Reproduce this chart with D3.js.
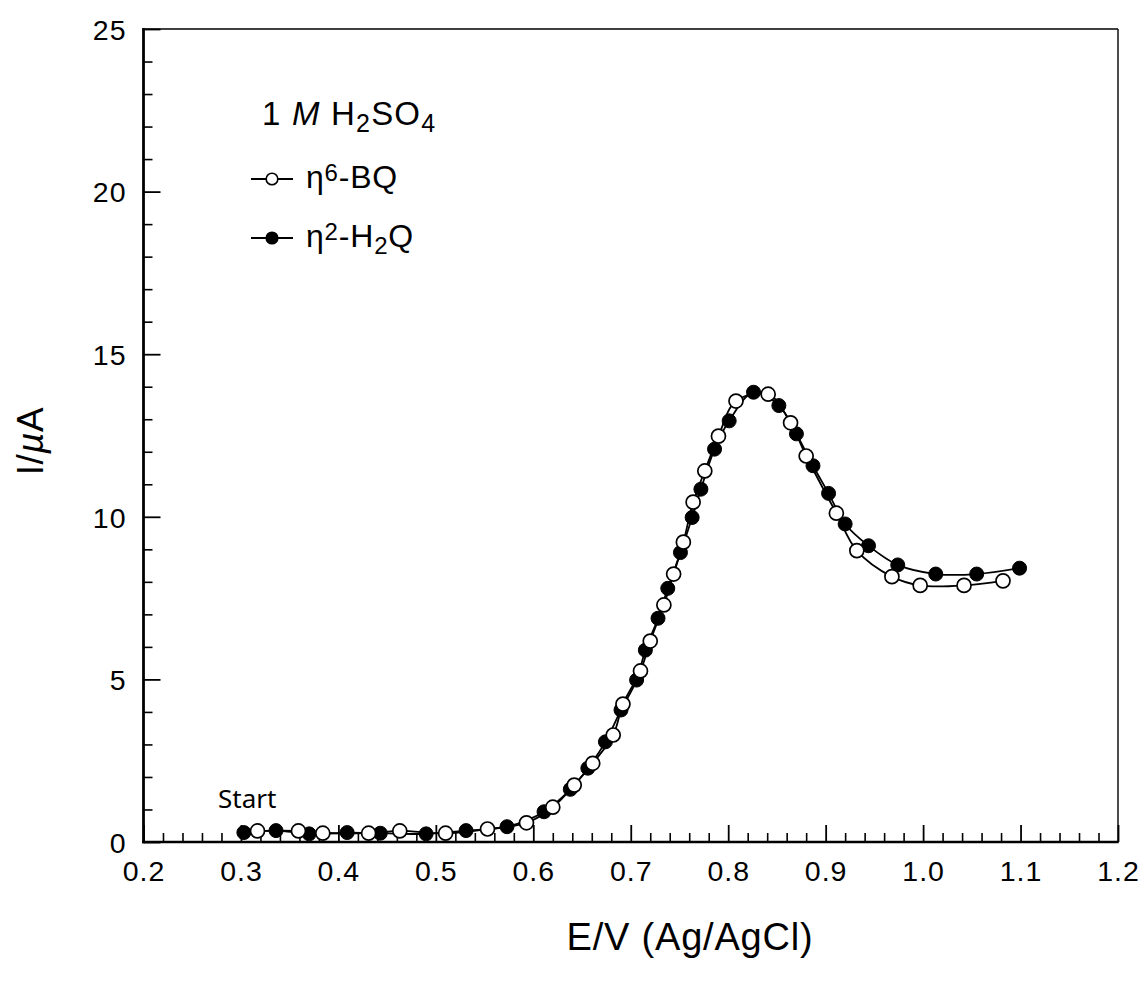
<!DOCTYPE html>
<html>
<head>
<meta charset="utf-8">
<script src="https://cdn.jsdelivr.net/npm/d3@7"></script>
<style>
  html, body { margin: 0; padding: 0; background: #fff; }
  svg { display: block; }
  text { font-family: "Liberation Sans", Arial, Helvetica, sans-serif; fill: #000; }
</style>
</head>
<body>
<svg id="chart" width="1147" height="981"></svg>
<script>
// Potential (V vs Ag/AgCl) and current (µA) for the η6-BQ scan (open circles)
const bqE = [0.317, 0.359, 0.384, 0.431, 0.463, 0.510, 0.553, 0.593, 0.620, 0.642,
             0.661, 0.682, 0.692, 0.710, 0.720, 0.734, 0.744, 0.754, 0.764, 0.776,
             0.790, 0.808, 0.841, 0.864, 0.880, 0.911, 0.932, 0.968, 0.997, 1.042, 1.082];
const bqI = [0.34, 0.34, 0.27, 0.27, 0.34, 0.27, 0.40, 0.59, 1.07, 1.75,
             2.42, 3.29, 4.24, 5.26, 6.18, 7.29, 8.24, 9.22, 10.45, 11.41,
             12.48, 13.56, 13.77, 12.89, 11.87, 10.11, 8.96, 8.16, 7.89, 7.89, 8.03];

// Potential and current for the η2-H2Q scan (filled circles)
const hqE = [0.303, 0.336, 0.370, 0.409, 0.443, 0.490, 0.531, 0.573, 0.611, 0.638,
             0.656, 0.674, 0.690, 0.706, 0.715, 0.728, 0.738, 0.751, 0.763, 0.772,
             0.786, 0.801, 0.826, 0.852, 0.870, 0.887, 0.903, 0.920, 0.944, 0.974,
             1.013, 1.055, 1.099];
const hqI = [0.29, 0.35, 0.25, 0.29, 0.27, 0.25, 0.35, 0.47, 0.93, 1.62,
             2.27, 3.08, 4.06, 4.98, 5.90, 6.88, 7.80, 8.90, 9.98, 10.85,
             12.08, 12.95, 13.83, 13.42, 12.55, 11.57, 10.72, 9.78, 9.11, 8.52,
             8.24, 8.24, 8.42];

// Axis ticks
const xMajorTicks = [0.2, 0.3, 0.4, 0.5, 0.6, 0.7, 0.8, 0.9, 1.0, 1.1, 1.2];
const xTickLabels = ["0.2", "0.3", "0.4", "0.5", "0.6", "0.7", "0.8", "0.9", "1.0", "1.1", "1.2"];
const yMajorTicks = [0, 5, 10, 15, 20, 25];
const yTickLabels = ["0", "5", "10", "15", "20", "25"];

const svg = d3.select("#chart");

const plot = { left: 143.5, right: 1118, top: 29, bottom: 842 };
const x = d3.scaleLinear().domain([0.2, 1.2]).range([plot.left, plot.right]);
const y = d3.scaleLinear().domain([0, 25]).range([plot.bottom, plot.top]);

const xMinor = d3.range(0, 51).map(i => 0.2 + i * 0.02)
  .filter(v => !xMajorTicks.some(m => Math.abs(m - v) < 1e-6));
const yMinor = d3.range(0, 26).filter(v => v % 5 !== 0);

const tickFont = g => g
  .style("font-family", "'Liberation Sans', Arial, sans-serif")
  .style("font-size", "28.5px")
  .style("letter-spacing", "1px")
  .attr("fill", "#000");

// Frame: thin top/right, heavier left/bottom axes
svg.append("line").attr("x1", plot.left).attr("x2", plot.right)
  .attr("y1", plot.top).attr("y2", plot.top)
  .attr("stroke", "#000").attr("stroke-width", 1.4);
svg.append("line").attr("x1", plot.right).attr("x2", plot.right)
  .attr("y1", plot.top).attr("y2", plot.bottom)
  .attr("stroke", "#000").attr("stroke-width", 1.4);

// Bottom axis with inward ticks
const xAxisG = svg.append("g").attr("transform", `translate(0,${plot.bottom})`);
xAxisG.call(d3.axisBottom(x).tickValues(xMinor).tickSize(-9).tickFormat(""))
  .call(g => g.select(".domain").remove())
  .call(g => g.selectAll(".tick line").attr("stroke-width", 1.6));
const xMajG = svg.append("g").attr("transform", `translate(0,${plot.bottom})`);
xMajG.call(d3.axisBottom(x).tickValues(xMajorTicks).tickSize(-17)
    .tickFormat((d, i) => xTickLabels[i]).tickPadding(0))
  .call(g => g.select(".domain").remove())
  .call(g => g.selectAll(".tick line").attr("stroke-width", 1.8))
  .call(g => g.selectAll(".tick text").attr("y", 39).attr("dy", null).call(tickFont));

// Left axis with inward ticks
const yAxisG = svg.append("g").attr("transform", `translate(${plot.left},0)`);
yAxisG.call(d3.axisLeft(y).tickValues(yMinor).tickSize(-9).tickFormat(""))
  .call(g => g.select(".domain").remove())
  .call(g => g.selectAll(".tick line").attr("stroke-width", 1.6));
const yMajG = svg.append("g").attr("transform", `translate(${plot.left},0)`);
yMajG.call(d3.axisLeft(y).tickValues(yMajorTicks).tickSize(-17)
    .tickFormat((d, i) => yTickLabels[i]).tickPadding(0))
  .call(g => g.select(".domain").remove())
  .call(g => g.selectAll(".tick line").attr("stroke-width", 1.8))
  .call(g => g.selectAll(".tick text").attr("x", -17).attr("dy", "0.36em").call(tickFont));

svg.append("line").attr("x1", plot.left).attr("x2", plot.left)
  .attr("y1", plot.top - 1).attr("y2", plot.bottom + 1.3)
  .attr("stroke", "#000").attr("stroke-width", 2.8);
svg.append("line").attr("x1", plot.left - 1.4).attr("x2", plot.right + 0.7)
  .attr("y1", plot.bottom).attr("y2", plot.bottom)
  .attr("stroke", "#000").attr("stroke-width", 2.6);

// Axis titles
svg.append("text")
  .attr("x", 690).attr("y", 950)
  .attr("text-anchor", "middle")
  .style("font-size", "38px")
  .style("letter-spacing", "0.8px")
  .text("E/V (Ag/AgCl)");

const yTitle = svg.append("text")
  .attr("transform", "translate(43,441) rotate(-90)")
  .attr("text-anchor", "middle")
  .style("font-size", "37px")
  .style("letter-spacing", "0.5px");
yTitle.append("tspan").text("I/");
yTitle.append("tspan").style("font-style", "italic").text("µ");
yTitle.append("tspan").text("A");

// Curves
const bq = bqE.map((e, i) => ({ e, i: bqI[i] }));
const hq = hqE.map((e, i) => ({ e, i: hqI[i] }));
const line = d3.line().x(d => x(d.e)).y(d => y(d.i)).curve(d3.curveCatmullRom.alpha(0.5));

const R = 7;
svg.append("path").datum(hq).attr("d", line)
  .attr("fill", "none").attr("stroke", "#000").attr("stroke-width", 1.8);
svg.append("g").selectAll("circle").data(hq).join("circle")
  .attr("cx", d => x(d.e)).attr("cy", d => y(d.i)).attr("r", R)
  .attr("fill", "#000").attr("stroke", "#000").attr("stroke-width", 1);

svg.append("path").datum(bq).attr("d", line)
  .attr("fill", "none").attr("stroke", "#000").attr("stroke-width", 1.8);
svg.append("g").selectAll("circle").data(bq).join("circle")
  .attr("cx", d => x(d.e)).attr("cy", d => y(d.i)).attr("r", R)
  .attr("fill", "#fff").attr("stroke", "#000").attr("stroke-width", 1.7);

// Scan start marker
svg.append("text")
  .attr("x", 218).attr("y", 808)
  .style("font-family", "'Noto Sans', 'Open Sans', sans-serif")
  .style("font-size", "26px")
  .text("Start");

// Electrolyte label
const title = svg.append("text").attr("x", 262).attr("y", 125)
  .style("font-size", "33px").style("letter-spacing", "1.2px");
title.append("tspan").text("1 ");
title.append("tspan").style("font-style", "italic").text("M");
title.append("tspan").text(" H");
title.append("tspan").attr("dy", 7).style("font-size", "25px").text("2");
title.append("tspan").attr("dy", -7).text("SO");
title.append("tspan").attr("dy", 7).style("font-size", "25px").text("4");

// Legend
const legendRows = [
  { y: 179, fill: "#fff", parts: [["η", 0, 32], ["6", -7, 24], ["-BQ", 7, 32]] },
  { y: 238, fill: "#000", parts: [["η", 0, 32], ["2", -7, 24], ["-H", 7, 32], ["2", 7, 24], ["Q", -7, 32]] }
];
legendRows.forEach(row => {
  svg.append("line").attr("x1", 251).attr("x2", 293).attr("y1", row.y).attr("y2", row.y)
    .attr("stroke", "#000").attr("stroke-width", 1.8);
  svg.append("circle").attr("cx", 272).attr("cy", row.y).attr("r", 5.8)
    .attr("fill", row.fill).attr("stroke", "#000").attr("stroke-width", 1.6);
  const t = svg.append("text").attr("x", 306).attr("y", row.y + 9)
    .style("letter-spacing", "0.8px");
  row.parts.forEach(([s, dy, fs]) => {
    t.append("tspan").attr("dy", dy).style("font-size", fs + "px").text(s);
  });
});
</script>
</body>
</html>
